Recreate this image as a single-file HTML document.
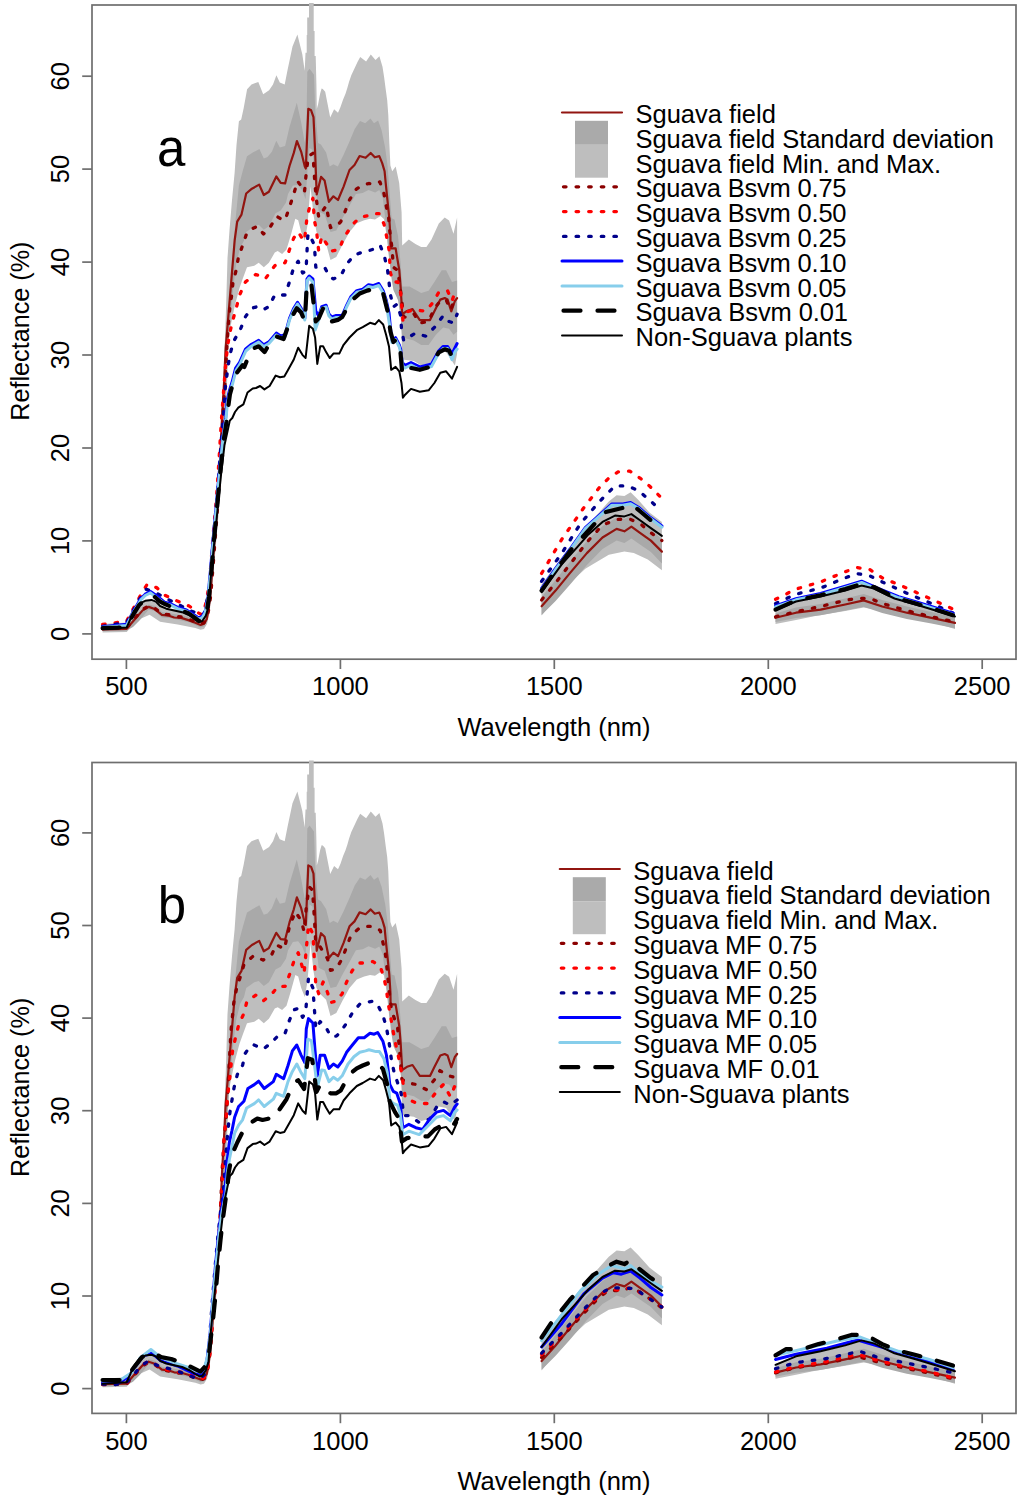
<!DOCTYPE html>
<html><head><meta charset="utf-8"><style>html,body{margin:0;padding:0;background:#fff;width:1024px;height:1502px;overflow:hidden}svg{display:block}</style></head>
<body><svg width="1024" height="1502" viewBox="0 0 1024 1502">
<rect width="1024" height="1502" fill="#fff"/>
<defs><clipPath id="clipa"><rect x="92" y="3" width="924" height="656.2"/></clipPath><clipPath id="clipb"><rect x="92" y="760.5" width="924" height="652.9"/></clipPath></defs>
<rect x="92.0" y="5.0" width="924.0" height="654.2" fill="none" stroke="#6e6e6e" stroke-width="1.7"/>
<rect x="92.0" y="762.5" width="924.0" height="650.9000000000001" fill="none" stroke="#6e6e6e" stroke-width="1.7"/>
<g clip-path="url(#clipa)">
<polygon points="102.6,624.0 126.7,622.5 133.0,613.0 140.0,604.0 148.7,600.0 155.0,602.0 161.9,607.0 170.0,609.0 181.2,610.0 190.0,613.0 200.6,617.0 204.0,616.0 206.5,610.0 208.0,598.0 210.0,575.0 212.5,545.0 215.5,512.0 219.0,470.0 221.5,425.0 223.0,395.0 224.0,360.0 225.1,335.8 226.3,300.0 227.5,258.0 229.5,230.0 232.0,200.0 234.6,173.1 236.5,145.0 238.9,121.2 241.2,119.5 243.7,107.9 247.1,89.3 251.5,84.5 258.3,82.0 263.2,94.2 269.1,90.3 273.0,84.5 276.4,75.2 279.8,82.5 284.7,84.5 287.6,69.8 292.5,46.4 297.4,34.6 302.3,54.2 304.7,70.8 305.5,52.7 306.7,52.7 306.7,35.0 307.2,35.0 307.2,17.6 309.0,17.6 309.0,-5.0 313.7,-5.0 313.7,31.0 314.6,31.0 314.6,56.0 315.7,56.0 316.4,83.5 316.8,108.9 318.1,104.2 320.1,93.7 321.6,88.6 322.8,89.0 325.2,91.7 326.7,99.5 327.9,105.4 330.2,117.5 334.1,109.3 338.0,112.8 340.4,107.3 343.1,99.5 345.5,93.7 347.4,87.8 349.0,82.0 351.3,75.3 357.5,62.0 360.2,57.0 366.1,61.6 370.8,54.6 375.5,60.1 379.4,56.2 382.5,66.7 384.1,76.9 385.6,88.6 387.2,100.3 388.3,115.0 389.3,142.0 390.4,165.5 392.2,171.3 395.7,166.6 399.2,183.0 401.6,212.3 402.2,245.4 408.8,239.5 415.4,243.9 421.2,246.9 426.4,246.9 431.5,239.5 438.8,223.4 444.7,217.6 449.1,220.5 453.5,233.7 457.1,217.6 457.1,353.7 454.9,365.4 452.0,361.0 446.1,352.3 438.8,350.8 431.5,362.5 421.2,365.4 413.9,361.0 402.2,359.6 401.5,331.8 400.0,302.5 397.8,299.6 395.6,287.8 392.0,273.2 389.0,258.6 386.8,236.6 383.9,219.0 380.5,215.9 375.0,219.5 370.0,218.8 364.2,220.3 356.8,223.2 349.5,232.0 342.2,245.2 336.3,256.9 330.5,259.9 326.1,243.7 320.2,237.9 316.5,232.0 313.5,215.0 310.5,186.6 307.5,225.0 304.8,240.8 301.2,232.0 298.2,220.3 295.3,218.8 290.9,235.0 286.5,249.6 282.1,254.0 277.7,251.1 274.8,252.5 268.9,262.8 263.8,267.2 258.7,262.8 254.3,265.7 247.0,267.2 243.0,278.0 239.5,287.9 234.7,305.9 231.1,323.8 228.7,335.8 227.0,385.0 225.0,425.0 222.0,470.0 218.5,515.0 215.0,555.0 212.0,590.0 209.5,613.0 207.0,624.0 204.0,629.0 200.6,629.8 195.3,628.0 177.7,624.5 160.1,621.8 149.6,614.8 140.0,619.0 133.0,625.0 126.7,632.0 102.6,632.5" fill="#bebebe"/>
<polygon points="102.6,627.5 126.7,627.0 133.0,619.0 140.0,611.0 148.7,604.5 155.0,606.0 161.9,612.0 170.0,613.5 181.2,615.0 190.0,617.5 200.6,622.0 204.0,621.0 206.5,616.0 208.0,606.0 210.0,590.0 212.0,565.0 215.0,525.0 218.5,480.0 221.0,440.0 222.8,400.0 224.5,365.0 226.5,330.0 229.0,300.0 232.0,265.0 235.5,220.0 238.9,185.5 243.0,170.0 247.0,156.2 252.8,152.6 259.4,148.9 263.8,158.4 267.5,157.0 271.9,151.8 276.3,140.8 279.9,147.4 285.1,146.0 289.5,126.9 296.8,102.8 301.2,122.5 304.8,143.0 306.5,120.0 307.3,71.8 309.6,68.8 314.0,74.7 315.1,107.9 318.0,143.0 320.9,144.5 326.1,152.6 329.7,166.5 333.4,164.3 337.8,166.5 343.6,154.8 349.5,141.6 354.7,129.1 360.0,121.0 365.2,123.3 370.5,118.6 374.0,123.3 378.1,120.4 381.6,130.3 385.2,147.9 387.5,165.5 389.8,194.8 391.6,218.2 394.5,219.4 398.0,236.0 400.5,262.0 402.2,286.4 409.5,286.4 421.2,293.0 428.6,290.8 434.4,282.0 441.7,270.3 446.1,270.3 452.0,282.0 457.1,280.5 457.1,331.8 453.5,334.7 449.1,328.8 443.2,327.4 435.9,334.7 428.6,345.0 421.2,345.0 413.9,340.6 402.2,337.6 401.0,320.0 398.0,300.0 393.4,290.0 391.0,275.0 389.0,255.0 386.0,225.0 382.8,198.3 379.3,190.1 375.2,192.4 368.5,190.0 362.7,193.0 355.9,194.0 349.5,205.7 342.2,218.8 336.3,230.6 330.5,232.0 324.6,214.5 318.7,211.5 315.0,180.0 312.5,150.0 309.5,148.0 307.5,170.0 305.6,199.0 302.0,190.0 298.2,185.0 292.9,185.6 288.0,194.0 286.0,202.6 280.7,210.6 275.5,213.3 268.9,226.2 263.8,229.8 258.7,224.7 254.3,226.2 246.2,232.0 244.0,240.8 240.0,248.0 236.0,265.0 232.5,295.0 229.5,330.0 227.5,360.0 225.5,395.0 223.5,430.0 221.0,475.0 217.5,520.0 214.0,560.0 211.5,590.0 209.0,612.0 207.0,621.0 204.0,626.5 200.6,627.5 190.0,622.5 181.2,620.5 170.0,618.0 161.9,617.5 155.0,611.0 148.7,609.5 140.0,620.0 133.0,627.0 126.7,630.5 102.6,631.0" fill="#a9a9a9"/>
<polygon points="541.6,584.4 560.0,560.0 577.5,537.5 596.3,515.6 608.8,501.6 616.6,495.3 624.4,496.1 630.6,492.2 638.4,500.0 649.4,512.5 661.9,521.9 661.9,570.3 647.8,559.4 633.8,553.1 624.4,551.6 608.8,554.7 585.3,568.8 561.9,590.6 541.6,615.6" fill="#bebebe"/>
<polygon points="541.6,597.0 555.6,580.0 569.7,562.0 586.9,541.0 602.5,526.0 616.6,517.5 624.4,519.0 631.4,515.0 640.0,521.0 650.9,529.0 661.9,539.5 661.9,563.5 650.9,552.0 640.0,544.5 631.4,538.5 624.4,543.0 616.6,540.5 602.5,549.0 586.9,565.0 569.7,585.0 555.6,601.0 541.6,615.0" fill="#a9a9a9"/>
<polygon points="775.5,609.0 796.0,601.0 820.6,597.0 845.2,591.0 863.7,585.0 882.2,591.0 906.8,599.0 931.4,607.0 955.0,614.0 955.0,629.1 931.4,622.0 898.6,615.8 882.2,611.0 863.7,607.6 845.2,611.0 816.5,615.8 796.0,620.0 775.5,624.0" fill="#bebebe"/>
<polygon points="775.5,613.5 796.0,607.5 820.6,604.0 845.2,598.5 863.7,594.0 882.2,600.0 906.8,606.5 931.4,612.0 955.0,617.5 955.0,628.3 931.4,623.6 906.8,618.9 882.2,613.0 863.7,606.8 845.2,610.5 820.6,615.2 796.0,617.9 775.5,622.0" fill="#a9a9a9"/>
<polyline points="102.6,629.5 126.7,628.9 130.3,624.5 136.4,617.5 142.6,610.4 148.7,606.9 154.0,608.7 161.9,614.8 168.9,615.7 174.2,617.5 181.2,617.9 188.3,620.1 195.3,622.7 200.6,624.9 204.1,623.6 206.7,619.2 208.5,609.5 210.2,596.4 212.5,567.0 216.5,515.0 220.0,465.0 222.2,413.7 224.0,383.7 225.7,347.8 228.7,311.9 231.7,275.9 234.7,240.0 237.2,221.6 241.5,214.6 246.2,193.5 251.9,188.7 259.2,184.6 263.8,195.0 268.9,191.8 276.3,176.5 280.7,182.8 285.1,183.4 289.5,166.0 293.8,152.9 296.9,141.0 301.2,151.8 304.8,166.5 305.8,168.5 308.3,108.8 311.1,110.3 313.5,117.2 315.1,151.2 316.7,194.5 321.0,176.9 324.6,180.5 328.9,201.8 333.4,196.3 338.0,200.0 343.6,186.6 349.5,170.0 354.5,165.0 359.6,156.0 365.6,157.8 370.7,153.0 374.8,157.3 379.3,156.1 382.2,163.1 384.6,171.3 385.7,183.0 387.5,200.6 389.3,218.2 390.4,236.0 390.6,248.3 395.6,248.3 399.3,270.3 400.7,287.8 402.2,314.2 407.0,311.0 412.5,309.1 419.8,320.1 430.0,320.1 434.4,311.3 440.3,299.6 444.7,298.1 447.6,299.6 451.3,311.3 454.9,301.0 457.1,298.1" fill="none" stroke="#921510" stroke-width="2.2" stroke-linejoin="round" stroke-linecap="round"/>
<polyline points="541.6,606.3 555.6,590.6 569.7,573.4 586.9,553.1 602.5,537.5 616.6,528.9 624.4,531.3 631.4,526.6 640.0,532.8 650.9,540.6 661.9,551.6" fill="none" stroke="#921510" stroke-width="2.2" stroke-linejoin="round" stroke-linecap="round"/>
<polyline points="775.5,617.8 796.0,612.7 820.6,609.6 845.2,604.5 863.7,600.4 882.2,606.5 906.8,612.7 931.4,617.8 955.0,622.9" fill="none" stroke="#921510" stroke-width="2.2" stroke-linejoin="round" stroke-linecap="round"/>
<polyline points="102.6,628.5 126.7,627.9 130.3,623.5 136.4,616.5 142.6,609.4 148.7,605.9 154.0,607.7 161.9,613.8 168.9,614.7 174.2,616.5 181.2,616.9 188.3,619.1 195.3,621.7 200.6,623.9 204.1,622.6 206.7,618.2 208.7,609.5 210.6,596.4 213.0,567.0 217.0,515.0 220.6,465.0 223.0,413.7 225.0,383.7 226.8,347.8 228.7,320.2 229.9,307.1 231.7,295.1 232.9,283.1 235.9,271.1 238.3,258.0 241.0,250.0 246.6,233.7 251.4,229.1 257.2,226.3 263.5,234.0 268.9,229.1 273.3,222.0 277.0,216.5 280.7,218.8 285.1,220.0 289.5,207.1 293.8,193.9 297.5,181.0 301.0,186.0 304.5,192.0 306.5,170.0 308.5,156.0 312.9,153.3 315.0,185.0 316.5,200.0 318.7,217.4 322.0,212.0 326.1,205.7 330.5,227.6 336.3,226.2 340.7,221.8 345.1,211.5 349.5,199.8 356.3,189.2 362.2,185.4 368.8,183.5 374.6,184.0 379.9,181.9 384.0,193.6 386.3,206.5 388.7,218.2 389.6,229.6 392.0,248.3 393.4,267.3 397.8,270.3 400.5,290.0 403.7,317.1 409.5,317.1 414.0,314.0 419.8,323.0 428.6,321.5 434.4,308.3 440.3,301.0 446.1,299.6 450.5,309.8 453.5,302.5 457.1,299.6" fill="none" stroke="#8b0000" stroke-width="3.3" stroke-linejoin="round" stroke-linecap="round" stroke-dasharray="2.5,10.1"/>
<polyline points="541.6,600.0 555.6,582.8 571.3,562.5 586.9,542.2 602.5,525.0 616.6,519.5 629.1,518.8 640.0,523.4 650.9,532.8 661.9,540.6" fill="none" stroke="#8b0000" stroke-width="3.3" stroke-linejoin="round" stroke-linecap="round" stroke-dasharray="2.5,10.1"/>
<polyline points="775.5,616.8 796.0,611.7 820.6,606.5 845.2,600.4 857.5,598.3 869.8,598.3 882.2,603.5 906.8,610.6 931.4,616.8 955.0,622.0" fill="none" stroke="#8b0000" stroke-width="3.3" stroke-linejoin="round" stroke-linecap="round" stroke-dasharray="2.5,10.1"/>
<polyline points="102.6,624.4 126.7,621.3 127.6,619.2 133.8,607.8 139.5,597.2 147.0,584.5 156.6,587.6 165.4,595.5 176.8,600.8 189.1,606.0 198.8,613.1 201.5,614.5 204.2,611.1 207.0,597.0 209.3,584.4 211.8,552.7 214.0,525.0 216.5,498.0 219.0,460.0 221.6,417.2 222.8,401.7 224.6,377.7 226.3,357.4 228.1,343.0 230.5,329.8 233.5,317.8 237.1,304.7 239.6,295.0 245.5,281.8 249.9,278.9 255.8,274.5 260.0,276.0 265.3,278.9 270.4,271.6 274.8,265.7 280.7,262.8 285.1,262.8 289.5,249.6 293.8,237.9 298.2,232.0 302.0,238.0 304.5,241.0 307.0,217.4 310.0,205.7 312.9,198.3 314.4,220.3 316.5,230.6 318.7,251.1 321.7,236.4 327.5,245.2 330.5,251.1 339.3,249.6 343.6,237.9 349.5,229.1 353.9,223.2 359.8,217.4 367.1,215.9 372.9,213.6 379.3,213.7 384.0,224.0 386.5,236.0 389.0,249.8 390.5,273.2 393.4,282.0 397.8,282.0 400.7,293.7 402.9,320.1 408.1,311.3 415.4,309.8 425.6,311.3 433.0,302.5 438.8,292.2 447.6,290.8 452.0,301.0 456.4,287.8" fill="none" stroke="#ff0000" stroke-width="3.3" stroke-linejoin="round" stroke-linecap="round" stroke-dasharray="2.5,10.1"/>
<polyline points="541.6,573.4 561.9,539.1 583.8,507.8 599.4,487.5 608.8,478.1 618.1,471.9 629.8,471.1 640.0,478.1 649.4,485.9 661.5,498.0" fill="none" stroke="#ff0000" stroke-width="3.3" stroke-linejoin="round" stroke-linecap="round" stroke-dasharray="2.5,10.1"/>
<polyline points="775.5,599.3 796.0,589.1 820.6,581.9 845.2,571.7 857.5,567.6 869.8,569.6 882.2,577.8 906.8,588.1 931.4,599.3 953.0,609.0" fill="none" stroke="#ff0000" stroke-width="3.3" stroke-linejoin="round" stroke-linecap="round" stroke-dasharray="2.5,10.1"/>
<polyline points="102.6,626.3 126.7,622.5 133.0,611.0 139.1,599.9 146.1,589.3 151.0,591.0 157.5,593.7 168.9,599.9 179.5,605.1 191.8,611.3 201.5,614.8 204.2,613.6 207.0,600.0 209.8,585.0 212.2,553.0 214.5,525.0 217.0,498.0 219.8,460.0 222.5,425.0 224.0,407.7 225.1,389.7 226.9,375.3 228.7,362.2 231.1,350.2 234.7,339.4 240.7,328.6 245.5,316.6 251.4,308.3 257.2,306.7 263.1,309.7 268.9,306.7 274.8,295.0 280.0,295.0 285.1,295.0 289.5,281.8 293.8,267.2 298.2,261.3 302.6,273.0 306.0,271.0 307.8,236.0 309.2,233.5 312.0,240.0 314.4,245.2 315.8,267.2 320.2,267.2 324.6,267.2 329.0,276.0 333.4,278.9 340.7,276.0 346.6,264.3 353.9,255.5 361.2,252.5 367.1,251.1 372.9,249.4 375.9,248.3 380.2,245.4 384.6,257.1 387.6,270.3 389.0,282.0 390.5,295.2 393.4,306.9 397.1,304.0 400.7,315.7 401.5,328.8 403.7,340.6 408.1,337.6 415.4,333.2 425.6,336.2 434.4,327.4 443.2,315.7 449.1,321.5 453.5,323.0 457.1,314.2" fill="none" stroke="#00008b" stroke-width="3.3" stroke-linejoin="round" stroke-linecap="round" stroke-dasharray="2.5,10.1"/>
<polyline points="541.6,581.3 561.9,553.1 580.6,523.4 599.4,501.6 615.0,485.9 627.5,485.9 638.4,490.6 649.4,500.0 661.5,511.0" fill="none" stroke="#00008b" stroke-width="3.3" stroke-linejoin="round" stroke-linecap="round" stroke-dasharray="2.5,10.1"/>
<polyline points="775.5,603.5 796.0,594.2 820.6,588.1 845.2,577.8 857.5,573.7 869.8,575.8 882.2,581.9 906.8,593.2 931.4,603.5 953.0,613.0" fill="none" stroke="#00008b" stroke-width="3.3" stroke-linejoin="round" stroke-linecap="round" stroke-dasharray="2.5,10.1"/>
<polyline points="102.6,626.8 126.7,624.2 133.0,612.0 140.8,598.6 145.2,594.2 150.5,591.5 157.0,596.0 164.5,602.1 170.7,603.8 177.7,607.4 186.5,610.0 193.5,614.4 198.8,617.9 202.3,616.2 205.3,611.0 208.0,597.0 210.5,570.0 213.0,540.0 216.0,508.0 219.5,470.0 223.0,435.0 225.7,417.2 226.9,401.7 229.3,390.9 232.3,381.3 235.6,368.0 239.6,362.4 245.5,349.2 250.6,344.8 258.7,340.4 263.8,344.8 268.9,341.9 276.3,333.1 280.7,336.0 285.1,334.6 289.5,318.4 293.8,308.2 297.5,302.3 301.2,308.2 304.8,318.4 307.0,278.9 309.2,276.0 312.9,278.9 315.8,311.1 318.7,316.0 321.7,306.7 326.1,305.3 329.0,314.1 331.9,317.0 336.3,315.5 342.2,315.5 346.6,305.3 351.0,296.5 356.8,290.6 362.7,289.2 368.5,284.8 372.9,285.6 378.8,283.5 383.2,290.8 386.1,299.6 389.0,312.7 390.5,328.8 392.0,340.6 395.6,337.6 399.3,345.0 400.7,349.3 402.2,362.5 405.1,365.4 411.0,362.5 419.8,366.9 431.5,364.0 438.8,350.8 443.2,346.4 447.6,346.4 452.0,353.7 454.9,347.9 457.1,343.5" fill="none" stroke="#0000ff" stroke-width="3" stroke-linejoin="round" stroke-linecap="round"/>
<polyline points="541.6,588.4 555.6,568.3 569.7,549.5 585.3,527.5 599.4,515.0 611.9,504.0 622.8,504.0 630.6,502.5 638.4,507.2 649.4,516.6 661.9,526.0" fill="none" stroke="#0000ff" stroke-width="3" stroke-linejoin="round" stroke-linecap="round"/>
<polyline points="775.5,605.8 796.0,598.6 820.6,593.5 845.2,586.3 861.6,581.2 878.1,588.4 898.6,596.6 919.1,602.8 953.0,613.2" fill="none" stroke="#0000ff" stroke-width="3" stroke-linejoin="round" stroke-linecap="round"/>
<polyline points="102.6,627.3 126.7,625.4 133.0,613.0 140.8,599.9 145.2,595.5 150.5,592.8 157.0,598.0 164.5,603.4 170.7,605.1 177.7,608.7 186.5,611.3 193.5,615.7 198.8,619.2 202.3,617.5 205.0,613.1 208.0,598.0 210.8,570.0 213.3,540.0 216.3,508.0 219.8,470.0 223.3,435.0 226.0,418.5 227.4,403.0 229.8,392.5 232.8,383.0 236.0,370.5 240.0,364.0 245.8,351.0 251.0,346.5 258.7,342.0 263.8,346.5 268.9,343.5 276.3,335.0 280.7,337.8 285.1,336.5 289.5,320.0 293.8,310.0 297.5,304.0 301.2,310.0 304.8,320.0 307.0,281.0 309.2,278.0 312.9,282.0 315.2,330.0 318.7,320.0 321.7,308.5 326.1,307.0 329.0,316.0 331.9,319.0 336.3,317.5 342.2,317.5 346.6,307.0 351.0,298.2 356.8,292.3 362.7,291.0 368.5,286.5 372.9,287.5 378.8,285.5 383.2,293.0 386.1,302.0 388.5,318.0 390.5,331.0 392.0,342.5 395.6,339.5 399.3,347.0 401.2,355.0 402.6,366.0 405.1,368.0 411.0,365.0 419.8,369.5 431.5,366.5 438.8,353.0 443.2,348.5 447.6,348.5 452.0,359.6 454.9,352.0 457.1,349.0" fill="none" stroke="#87ceeb" stroke-width="3" stroke-linejoin="round" stroke-linecap="round"/>
<polyline points="541.6,589.6 555.6,569.5 569.7,550.7 585.3,528.7 599.4,516.2 611.9,505.2 622.8,505.2 630.6,503.7 638.4,508.4 649.4,517.8 661.9,527.2" fill="none" stroke="#87ceeb" stroke-width="3" stroke-linejoin="round" stroke-linecap="round"/>
<polyline points="775.5,607.0 796.0,599.8 820.6,594.7 845.2,587.5 861.6,582.4 878.1,589.6 898.6,597.8 919.1,604.0 953.0,614.4" fill="none" stroke="#87ceeb" stroke-width="3" stroke-linejoin="round" stroke-linecap="round"/>
<polyline points="102.6,628.2 117.9,627.6 125.0,627.1 132.0,616.6 139.1,605.1 146.0,599.0 153.1,595.5 160.1,601.6 165.4,604.3 173.0,607.5 181.2,610.4 188.3,613.1 194.4,617.5 198.8,621.0 202.3,620.5 206.7,612.2 209.0,597.0 211.5,570.0 214.0,540.0 217.0,508.0 220.5,470.0 224.0,438.0 226.5,422.0 228.1,407.7 229.9,394.5 232.5,385.0 235.9,374.1 242.6,365.3 244.3,367.0 251.4,349.2 258.7,346.3 264.5,352.1 269.5,344.0 274.8,336.0 283.6,339.0 290.9,318.4 296.8,308.2 301.2,312.6 304.8,321.4 307.0,281.8 311.4,284.8 315.8,321.4 318.7,318.4 323.1,308.2 327.5,311.1 331.9,321.4 337.8,319.9 342.2,317.0 351.0,300.9 359.8,293.5 367.1,290.6 372.9,289.2 375.9,287.8 383.2,293.7 387.6,311.3 390.5,331.8 393.4,342.0 396.4,339.1 400.0,346.4 402.2,372.8 403.7,375.7 411.0,368.0 419.8,369.8 430.0,366.9 438.8,352.3 444.7,349.3 449.1,350.8 451.3,355.2 454.9,349.0 457.1,346.4" fill="none" stroke="#000000" stroke-width="4.2" stroke-linejoin="round" stroke-linecap="round" stroke-dasharray="17,17"/>
<polyline points="541.6,590.6 555.6,570.5 574.4,545.3 582.2,537.5 596.3,521.9 604.1,512.5 622.8,507.8 632.2,504.7 641.0,512.0 650.9,520.3 661.9,528.1" fill="none" stroke="#000000" stroke-width="4.2" stroke-linejoin="round" stroke-linecap="round" stroke-dasharray="17,17"/>
<polyline points="775.5,609.6 796.0,600.4 820.6,595.2 845.2,589.1 861.6,584.0 873.9,587.0 894.5,597.3 919.1,604.5 935.5,609.6 955.0,615.8" fill="none" stroke="#000000" stroke-width="4.2" stroke-linejoin="round" stroke-linecap="round" stroke-dasharray="17,17"/>
<polyline points="102.6,629.0 126.7,627.5 133.8,611.3 139.9,603.4 145.2,600.8 151.4,599.9 155.8,601.6 160.1,606.0 166.3,608.7 174.2,610.4 182.1,612.2 190.0,615.7 195.3,619.2 199.7,621.8 202.3,621.0 205.8,615.7 208.5,606.9 211.0,575.0 214.0,545.0 217.5,510.0 221.0,475.0 224.5,445.0 227.2,432.7 229.8,420.6 232.3,418.0 235.0,412.0 238.3,407.7 243.4,404.3 247.5,392.5 252.7,388.5 256.0,388.0 260.1,386.0 264.4,389.4 269.6,386.0 275.7,375.6 280.0,377.3 284.3,376.4 288.0,370.0 293.8,359.5 298.2,347.7 302.6,355.1 305.6,358.0 309.2,325.8 312.9,328.7 315.1,337.5 317.3,363.9 320.2,346.3 323.1,346.3 326.1,352.1 329.7,358.0 333.4,353.6 339.3,353.6 343.6,344.8 349.5,337.5 356.8,330.2 362.7,327.2 370.0,322.8 375.0,324.3 378.8,320.1 383.2,324.5 386.1,334.7 389.0,346.4 391.2,369.8 395.6,366.9 399.3,371.3 401.5,383.0 402.9,397.7 405.1,394.7 411.0,388.9 419.8,391.8 428.6,390.3 434.4,383.0 440.3,372.8 446.1,371.3 452.0,378.6 457.1,366.9" fill="none" stroke="#000000" stroke-width="2" stroke-linejoin="round" stroke-linecap="round"/>
<polyline points="541.6,592.2 561.9,564.1 577.5,546.9 588.4,534.4 602.5,521.9 615.0,515.6 624.4,516.4 631.4,514.1 640.0,520.3 650.9,528.1 661.9,535.9" fill="none" stroke="#000000" stroke-width="2" stroke-linejoin="round" stroke-linecap="round"/>
<polyline points="775.5,610.0 796.0,601.5 820.6,596.5 845.2,590.5 861.6,585.5 873.9,588.5 894.5,598.5 919.1,605.5 935.5,610.5 955.0,616.5" fill="none" stroke="#000000" stroke-width="2" stroke-linejoin="round" stroke-linecap="round"/>
</g>
<g clip-path="url(#clipb)">
<polygon points="102.6,1378.7 126.7,1377.2 133.0,1367.8 140.0,1358.8 148.7,1354.8 155.0,1356.8 161.9,1361.8 170.0,1363.8 181.2,1364.8 190.0,1367.8 200.6,1371.8 204.0,1370.8 206.5,1364.8 208.0,1352.8 210.0,1329.9 212.5,1300.0 215.5,1267.1 219.0,1225.3 221.5,1180.4 223.0,1150.5 224.0,1115.7 225.1,1091.6 226.3,1055.9 227.5,1014.0 229.5,986.1 232.0,956.2 234.6,929.4 236.5,901.4 238.9,877.7 241.2,876.0 243.7,864.5 247.1,845.9 251.5,841.2 258.3,838.7 263.2,850.8 269.1,846.9 273.0,841.2 276.4,831.9 279.8,839.2 284.7,841.2 287.6,826.5 292.5,803.2 297.4,791.4 302.3,811.0 304.7,827.5 305.5,809.5 306.7,809.5 306.7,791.8 307.2,791.8 307.2,774.5 309.0,774.5 309.0,752.0 313.7,752.0 313.7,787.8 314.6,787.8 314.6,812.8 315.7,812.8 316.4,840.2 316.8,865.5 318.1,860.8 320.1,850.3 321.6,845.2 322.8,845.6 325.2,848.3 326.7,856.1 327.9,862.0 330.2,874.0 334.1,865.9 338.0,869.3 340.4,863.9 343.1,856.1 345.5,850.3 347.4,844.4 349.0,838.7 351.3,832.0 357.5,818.7 360.2,813.7 366.1,818.3 370.8,811.4 375.5,816.8 379.4,813.0 382.5,823.4 384.1,833.6 385.6,845.2 387.2,856.9 388.3,871.5 389.3,898.4 390.4,921.9 392.2,927.6 395.7,923.0 399.2,939.3 401.6,968.5 402.2,1001.5 408.8,995.6 415.4,1000.0 421.2,1003.0 426.4,1003.0 431.5,995.6 438.8,979.6 444.7,973.8 449.1,976.7 453.5,989.8 457.1,973.8 457.1,1109.4 454.9,1121.1 452.0,1116.7 446.1,1108.0 438.8,1106.5 431.5,1118.2 421.2,1121.1 413.9,1116.7 402.2,1115.3 401.5,1087.6 400.0,1058.4 397.8,1055.5 395.6,1043.7 392.0,1029.2 389.0,1014.6 386.8,992.7 383.9,975.2 380.5,972.1 375.0,975.7 370.0,975.0 364.2,976.5 356.8,979.4 349.5,988.1 342.2,1001.3 336.3,1012.9 330.5,1015.9 326.1,999.8 320.2,994.0 316.5,988.1 313.5,971.2 310.5,942.9 307.5,981.2 304.8,996.9 301.2,988.1 298.2,976.5 295.3,975.0 290.9,991.1 286.5,1005.7 282.1,1010.0 277.7,1007.2 274.8,1008.6 268.9,1018.8 263.8,1023.2 258.7,1018.8 254.3,1021.7 247.0,1023.2 243.0,1034.0 239.5,1043.8 234.7,1061.8 231.1,1079.6 228.7,1091.6 227.0,1140.6 225.0,1180.4 222.0,1225.3 218.5,1270.1 215.0,1310.0 212.0,1344.9 209.5,1367.8 207.0,1378.7 204.0,1383.7 200.6,1384.5 195.3,1382.7 177.7,1379.2 160.1,1376.5 149.6,1369.6 140.0,1373.8 133.0,1379.7 126.7,1386.7 102.6,1387.2" fill="#bebebe"/>
<polygon points="102.6,1382.2 126.7,1381.7 133.0,1373.8 140.0,1365.8 148.7,1359.3 155.0,1360.8 161.9,1366.8 170.0,1368.3 181.2,1369.8 190.0,1372.3 200.6,1376.7 204.0,1375.7 206.5,1370.8 208.0,1360.8 210.0,1344.9 212.0,1319.9 215.0,1280.1 218.5,1235.2 221.0,1195.4 222.8,1155.5 224.5,1120.7 226.5,1085.8 229.0,1055.9 232.0,1021.0 235.5,976.2 238.9,941.8 243.0,926.3 247.0,912.6 252.8,909.0 259.4,905.3 263.8,914.8 267.5,913.4 271.9,908.2 276.3,897.3 279.9,903.8 285.1,902.4 289.5,883.4 296.8,859.4 301.2,879.0 304.8,899.4 306.5,876.5 307.3,828.5 309.6,825.5 314.0,831.4 315.1,864.5 318.0,899.4 320.9,900.9 326.1,909.0 329.7,922.9 333.4,920.7 337.8,922.9 343.6,911.2 349.5,898.0 354.7,885.6 360.0,877.5 365.2,879.8 370.5,875.1 374.0,879.8 378.1,876.9 381.6,886.8 385.2,904.3 387.5,921.9 389.8,951.1 391.6,974.4 394.5,975.6 398.0,992.1 400.5,1018.0 402.2,1042.3 409.5,1042.3 421.2,1048.9 428.6,1046.7 434.4,1037.9 441.7,1026.3 446.1,1026.3 452.0,1037.9 457.1,1036.5 457.1,1087.6 453.5,1090.5 449.1,1084.6 443.2,1083.2 435.9,1090.5 428.6,1100.7 421.2,1100.7 413.9,1096.3 402.2,1093.4 401.0,1075.8 398.0,1055.9 393.4,1045.9 391.0,1031.0 389.0,1011.0 386.0,981.2 382.8,954.5 379.3,946.4 375.2,948.7 368.5,946.3 362.7,949.3 355.9,950.3 349.5,961.9 342.2,975.0 336.3,986.7 330.5,988.1 324.6,970.7 318.7,967.7 315.0,936.3 312.5,906.4 309.5,904.4 307.5,926.3 305.6,955.2 302.0,946.3 298.2,941.3 292.9,941.9 288.0,950.3 286.0,958.8 280.7,966.8 275.5,969.5 268.9,982.3 263.8,985.9 258.7,980.9 254.3,982.3 246.2,988.1 244.0,996.9 240.0,1004.1 236.0,1021.0 232.5,1050.9 229.5,1085.8 227.5,1115.7 225.5,1150.5 223.5,1185.4 221.0,1230.3 217.5,1275.1 214.0,1315.0 211.5,1344.9 209.0,1366.8 207.0,1375.7 204.0,1381.2 200.6,1382.2 190.0,1377.2 181.2,1375.2 170.0,1372.8 161.9,1372.3 155.0,1365.8 148.7,1364.3 140.0,1374.7 133.0,1381.7 126.7,1385.2 102.6,1385.7" fill="#a9a9a9"/>
<polygon points="541.6,1339.3 560.0,1315.0 577.5,1292.5 596.3,1270.7 608.8,1256.8 616.6,1250.5 624.4,1251.3 630.6,1247.4 638.4,1255.2 649.4,1267.6 661.9,1277.0 661.9,1325.2 647.8,1314.4 633.8,1308.1 624.4,1306.6 608.8,1309.7 585.3,1323.7 561.9,1345.5 541.6,1370.4" fill="#bebebe"/>
<polygon points="541.6,1351.8 555.6,1334.9 569.7,1317.0 586.9,1296.0 602.5,1281.1 616.6,1272.6 624.4,1274.1 631.4,1270.1 640.0,1276.1 650.9,1284.1 661.9,1294.5 661.9,1318.4 650.9,1307.0 640.0,1299.5 631.4,1293.5 624.4,1298.0 616.6,1295.5 602.5,1304.0 586.9,1319.9 569.7,1339.9 555.6,1355.8 541.6,1369.8" fill="#a9a9a9"/>
<polygon points="775.5,1363.8 796.0,1355.8 820.6,1351.8 845.2,1345.9 863.7,1339.9 882.2,1345.9 906.8,1353.8 931.4,1361.8 955.0,1368.8 955.0,1383.8 931.4,1376.7 898.6,1370.6 882.2,1365.8 863.7,1362.4 845.2,1365.8 816.5,1370.6 796.0,1374.7 775.5,1378.7" fill="#bebebe"/>
<polygon points="775.5,1368.3 796.0,1362.3 820.6,1358.8 845.2,1353.3 863.7,1348.8 882.2,1354.8 906.8,1361.3 931.4,1366.8 955.0,1372.3 955.0,1383.0 931.4,1378.3 906.8,1373.7 882.2,1367.8 863.7,1361.6 845.2,1365.3 820.6,1370.0 796.0,1372.7 775.5,1376.7" fill="#a9a9a9"/>
<polyline points="102.6,1384.2 126.7,1383.6 130.3,1379.2 136.4,1372.3 142.6,1365.2 148.7,1361.7 154.0,1363.5 161.9,1369.6 168.9,1370.5 174.2,1372.3 181.2,1372.7 188.3,1374.8 195.3,1377.4 200.6,1379.6 204.1,1378.3 206.7,1374.0 208.5,1364.3 210.2,1351.2 212.5,1321.9 216.5,1270.1 220.0,1220.3 222.2,1169.2 224.0,1139.3 225.7,1103.5 228.7,1067.7 231.7,1031.9 234.7,996.1 237.2,977.8 241.5,970.8 246.2,949.8 251.9,945.0 259.2,940.9 263.8,951.3 268.9,948.1 276.3,932.8 280.7,939.1 285.1,939.7 289.5,922.4 293.8,909.3 296.9,897.4 301.2,908.2 304.8,922.9 305.8,924.9 308.3,865.4 311.1,866.9 313.5,873.7 315.1,907.6 316.7,950.8 321.0,933.2 324.6,936.8 328.9,958.0 333.4,952.6 338.0,956.2 343.6,942.9 349.5,926.3 354.5,921.4 359.6,912.4 365.6,914.2 370.7,909.4 374.8,913.7 379.3,912.5 382.2,919.5 384.6,927.6 385.7,939.3 387.5,956.8 389.3,974.4 390.4,992.1 390.6,1004.4 395.6,1004.4 399.3,1026.3 400.7,1043.7 402.2,1070.0 407.0,1066.8 412.5,1065.0 419.8,1075.9 430.0,1075.9 434.4,1067.1 440.3,1055.5 444.7,1054.0 447.6,1055.5 451.3,1067.1 454.9,1056.9 457.1,1054.0" fill="none" stroke="#921510" stroke-width="2.2" stroke-linejoin="round" stroke-linecap="round"/>
<polyline points="541.6,1361.1 555.6,1345.5 569.7,1328.3 586.9,1308.1 602.5,1292.5 616.6,1284.0 624.4,1286.4 631.4,1281.7 640.0,1287.9 650.9,1295.6 661.9,1306.6" fill="none" stroke="#921510" stroke-width="2.2" stroke-linejoin="round" stroke-linecap="round"/>
<polyline points="775.5,1372.6 796.0,1367.5 820.6,1364.4 845.2,1359.3 863.7,1355.2 882.2,1361.3 906.8,1367.5 931.4,1372.6 955.0,1377.6" fill="none" stroke="#921510" stroke-width="2.2" stroke-linejoin="round" stroke-linecap="round"/>
<polyline points="102.6,1384.7 126.7,1384.1 130.3,1379.7 136.4,1372.8 142.6,1365.7 148.7,1362.2 154.0,1364.0 161.9,1370.1 168.9,1371.0 174.2,1372.8 181.2,1373.2 188.3,1375.3 195.3,1377.9 200.6,1380.1 204.1,1378.8 206.7,1374.5 208.5,1364.8 210.2,1351.7 212.5,1322.4 216.5,1270.6 220.0,1220.8 222.2,1169.7 224.0,1139.8 226.0,1120.0 227.9,1090.4 230.9,1031.8 233.8,1002.5 236.7,987.9 239.6,979.1 244.0,964.4 253.6,955.7 263.1,960.1 271.9,954.2 276.3,944.7 284.3,949.1 289.5,926.4 295.3,911.7 301.2,920.5 304.1,931.5 306.5,905.0 309.2,887.0 312.5,890.0 314.5,920.0 315.8,943.9 320.2,946.9 327.5,958.6 330.5,970.3 336.3,968.8 342.2,958.6 351.0,935.2 359.8,927.8 365.6,926.4 372.9,926.4 380.3,930.4 382.9,942.5 385.5,954.6 387.2,970.2 388.9,989.2 391.5,1010.0 395.0,1020.4 397.6,1027.3 400.2,1058.5 401.9,1079.3 407.1,1082.7 415.8,1084.4 426.2,1089.6 434.8,1079.3 440.0,1070.6 448.7,1075.8 455.6,1077.5 457.1,1076.0" fill="none" stroke="#8b0000" stroke-width="3.3" stroke-linejoin="round" stroke-linecap="round" stroke-dasharray="2.5,10.1"/>
<polyline points="541.6,1357.5 561.9,1337.0 582.2,1315.0 599.4,1297.0 608.8,1290.5 618.1,1290.5 624.4,1289.5 631.4,1287.5 640.0,1292.0 650.9,1299.5 661.9,1308.0" fill="none" stroke="#8b0000" stroke-width="3.3" stroke-linejoin="round" stroke-linecap="round" stroke-dasharray="2.5,10.1"/>
<polyline points="775.5,1372.8 796.0,1367.7 826.8,1363.0 857.5,1356.5 878.1,1362.0 908.8,1369.0 929.3,1373.0 953.0,1378.8" fill="none" stroke="#8b0000" stroke-width="3.3" stroke-linejoin="round" stroke-linecap="round" stroke-dasharray="2.5,10.1"/>
<polyline points="102.6,1383.7 126.7,1383.1 130.3,1378.7 136.4,1371.8 142.6,1364.7 148.7,1361.2 154.0,1363.0 161.9,1369.1 168.9,1370.0 174.2,1371.8 181.2,1372.2 188.3,1374.3 195.3,1376.9 200.6,1379.1 204.1,1377.8 206.7,1373.5 208.5,1363.8 210.2,1350.7 212.5,1321.4 216.5,1269.6 220.0,1219.8 222.0,1186.4 223.3,1159.8 224.0,1139.8 225.3,1126.5 226.6,1113.2 227.3,1099.9 228.6,1087.9 230.0,1075.9 231.3,1062.6 232.6,1050.6 235.3,1038.6 238.6,1025.3 243.9,1013.3 247.0,1001.1 255.8,995.2 263.1,1001.1 273.3,992.3 277.7,986.4 285.1,986.4 289.5,974.7 293.8,961.5 298.2,952.7 304.1,973.2 308.5,924.9 312.9,933.7 315.8,985.0 318.7,993.7 323.1,982.0 327.5,992.3 330.5,1002.5 336.3,1001.1 342.2,993.7 346.6,982.0 352.4,970.3 359.8,963.0 365.6,963.0 372.9,961.5 380.3,966.7 383.8,977.1 386.4,989.2 388.1,1003.1 390.7,1016.9 392.4,1027.3 395.0,1041.2 398.5,1056.8 401.1,1070.6 405.4,1098.3 417.5,1103.5 427.9,1103.5 436.6,1091.4 443.5,1084.4 450.4,1096.6 454.7,1086.2 457.1,1084.0" fill="none" stroke="#ff0000" stroke-width="3.3" stroke-linejoin="round" stroke-linecap="round" stroke-dasharray="2.5,10.1"/>
<polyline points="541.6,1354.7 561.9,1334.4 582.2,1312.5 599.4,1295.3 608.8,1289.1 618.1,1289.8 624.4,1287.5 635.3,1289.8 646.3,1296.9 658.8,1304.7 661.9,1307.0" fill="none" stroke="#ff0000" stroke-width="3.3" stroke-linejoin="round" stroke-linecap="round" stroke-dasharray="2.5,10.1"/>
<polyline points="775.5,1371.8 796.0,1366.7 826.8,1361.5 857.5,1354.3 878.1,1360.5 908.8,1367.7 929.3,1371.8 953.0,1377.9" fill="none" stroke="#ff0000" stroke-width="3.3" stroke-linejoin="round" stroke-linecap="round" stroke-dasharray="2.5,10.1"/>
<polyline points="102.6,1384.0 115.3,1384.5 126.0,1383.0 133.0,1376.0 140.0,1367.0 148.3,1360.9 158.5,1366.0 171.2,1369.2 182.6,1373.0 194.0,1377.4 200.0,1378.5 204.0,1375.0 207.0,1364.0 209.5,1340.0 212.0,1305.0 215.0,1268.0 218.0,1235.0 220.5,1212.0 223.3,1193.1 224.6,1173.1 226.0,1153.1 227.3,1137.2 228.6,1123.8 230.0,1111.9 232.0,1099.9 234.0,1087.9 237.3,1074.6 242.6,1065.2 245.3,1053.3 249.9,1046.5 254.0,1045.0 263.5,1049.0 271.9,1042.1 277.7,1036.2 285.1,1033.3 289.5,1020.1 293.8,1009.9 298.2,1008.4 302.6,1017.2 305.6,1012.8 308.5,977.6 312.9,987.9 315.8,1028.9 320.2,1021.6 326.1,1027.4 330.5,1036.2 336.3,1036.2 340.7,1031.8 346.6,1023.0 352.4,1012.8 359.8,1004.0 365.6,1002.5 372.9,1001.1 377.7,1004.8 382.9,1015.2 386.4,1027.3 388.9,1041.2 391.5,1060.2 394.1,1072.3 397.6,1082.7 401.1,1093.1 403.7,1115.6 408.9,1115.6 419.2,1122.5 429.6,1119.1 436.6,1107.0 443.5,1101.8 450.4,1105.2 454.7,1101.8 457.1,1100.0" fill="none" stroke="#00008b" stroke-width="3.3" stroke-linejoin="round" stroke-linecap="round" stroke-dasharray="2.5,10.1"/>
<polyline points="541.6,1353.1 561.9,1332.8 580.6,1312.5 599.4,1293.8 611.9,1287.5 622.8,1288.3 633.8,1288.3 644.7,1295.3 657.2,1303.9 661.9,1307.0" fill="none" stroke="#00008b" stroke-width="3.3" stroke-linejoin="round" stroke-linecap="round" stroke-dasharray="2.5,10.1"/>
<polyline points="775.5,1368.7 796.0,1362.6 826.8,1358.5 859.6,1351.3 878.1,1357.4 908.8,1363.6 929.3,1367.7 953.0,1372.8" fill="none" stroke="#00008b" stroke-width="3.3" stroke-linejoin="round" stroke-linecap="round" stroke-dasharray="2.5,10.1"/>
<polyline points="102.6,1382.5 119.8,1382.5 128.0,1377.0 133.0,1370.0 143.2,1355.9 152.1,1353.3 161.0,1360.9 177.5,1366.0 194.0,1373.6 200.4,1374.9 204.0,1371.0 207.0,1360.0 210.0,1335.0 212.8,1300.0 215.5,1265.0 218.5,1235.0 221.5,1210.0 224.0,1195.0 225.3,1186.4 226.6,1166.4 228.0,1153.1 229.3,1142.5 232.0,1130.5 234.6,1117.2 238.6,1106.5 243.9,1101.2 247.9,1088.5 254.3,1084.6 258.6,1081.2 264.2,1088.5 273.3,1081.6 276.3,1074.3 283.6,1078.7 288.0,1065.5 292.4,1050.9 296.8,1045.0 301.2,1055.3 304.8,1062.6 306.3,1028.9 308.5,1018.6 312.9,1023.0 315.0,1050.0 317.3,1075.8 320.2,1055.3 324.6,1055.3 329.0,1068.4 333.4,1064.0 337.8,1067.0 342.2,1061.1 346.6,1052.3 352.4,1045.0 358.3,1037.7 364.2,1037.7 370.0,1033.3 374.2,1034.2 377.7,1032.5 382.9,1041.2 386.4,1055.0 389.8,1084.4 393.3,1091.4 396.7,1093.1 400.2,1103.5 402.8,1127.7 408.9,1124.3 415.8,1127.7 422.7,1129.4 429.6,1119.1 436.6,1112.1 443.5,1110.4 450.4,1115.6 454.7,1107.0 457.1,1104.0" fill="none" stroke="#0000ff" stroke-width="3" stroke-linejoin="round" stroke-linecap="round"/>
<polyline points="541.6,1346.9 561.9,1323.4 583.8,1293.8 602.5,1278.1 613.4,1272.7 621.3,1274.2 630.6,1271.1 640.0,1278.1 650.9,1287.5 661.9,1295.0" fill="none" stroke="#0000ff" stroke-width="3" stroke-linejoin="round" stroke-linecap="round"/>
<polyline points="775.5,1359.5 796.0,1354.3 826.8,1348.2 857.5,1340.0 878.1,1346.1 908.8,1355.4 929.3,1361.5 953.0,1369.7" fill="none" stroke="#0000ff" stroke-width="3" stroke-linejoin="round" stroke-linecap="round"/>
<polyline points="102.6,1381.0 120.4,1380.0 131.8,1372.4 140.0,1358.0 150.9,1349.5 160.0,1357.0 176.2,1363.5 190.0,1368.0 200.4,1372.4 204.0,1369.0 207.5,1357.0 210.5,1332.0 213.0,1300.0 216.0,1265.0 219.0,1235.0 222.0,1212.0 224.5,1200.0 226.0,1193.1 227.3,1173.1 229.3,1159.8 232.0,1146.5 234.6,1133.2 238.6,1125.2 242.6,1119.8 246.6,1108.0 254.3,1103.6 258.6,1099.9 264.2,1106.5 273.3,1099.2 276.3,1093.3 283.6,1096.3 288.0,1081.6 292.4,1071.4 296.8,1064.0 301.2,1072.8 304.8,1078.7 307.8,1039.2 311.4,1040.6 314.5,1065.0 317.3,1087.5 321.7,1069.9 324.6,1070.5 329.0,1081.6 333.4,1077.2 337.8,1080.2 342.2,1075.8 348.0,1064.0 353.9,1056.7 359.8,1052.3 365.6,1050.9 369.0,1049.8 376.0,1051.6 379.4,1051.6 383.8,1058.5 387.2,1072.3 389.8,1100.0 393.3,1103.5 397.6,1105.2 400.2,1113.9 402.8,1134.6 408.9,1131.2 419.2,1134.6 429.6,1124.3 436.6,1117.3 443.5,1115.6 450.4,1120.8 454.7,1112.1 457.1,1110.0" fill="none" stroke="#87ceeb" stroke-width="3" stroke-linejoin="round" stroke-linecap="round"/>
<polyline points="541.6,1340.6 558.8,1318.8 580.6,1290.6 599.4,1273.4 611.9,1265.6 624.4,1268.8 630.6,1265.6 640.0,1273.4 650.9,1281.3 661.9,1287.0" fill="none" stroke="#87ceeb" stroke-width="3" stroke-linejoin="round" stroke-linecap="round"/>
<polyline points="775.5,1355.4 806.3,1348.2 837.0,1341.0 859.6,1336.9 878.1,1344.0 898.6,1351.3 929.3,1359.5 953.0,1367.7" fill="none" stroke="#87ceeb" stroke-width="3" stroke-linejoin="round" stroke-linecap="round"/>
<polyline points="102.6,1380.0 119.8,1380.0 126.0,1378.0 133.1,1368.6 142.0,1357.1 148.0,1354.0 154.7,1353.3 161.0,1357.1 171.2,1359.0 186.4,1364.7 200.4,1371.7 205.4,1366.0 209.3,1350.8 213.1,1319.0 215.5,1295.0 218.0,1265.0 220.5,1240.0 223.0,1218.0 225.5,1200.0 227.3,1189.1 228.6,1173.1 232.0,1154.5 237.3,1142.5 245.3,1126.5 257.3,1118.5 262.5,1120.0 268.2,1118.8 273.5,1111.0 276.8,1108.0 279.5,1109.5 286.5,1099.2 290.9,1089.0 293.8,1083.1 298.2,1080.2 304.1,1089.0 307.8,1058.2 312.2,1059.7 314.4,1075.8 316.5,1091.9 320.2,1084.6 324.6,1086.0 330.5,1093.3 336.3,1093.3 340.7,1090.4 349.5,1074.3 356.8,1068.4 362.7,1065.5 369.0,1063.0 376.0,1061.9 382.9,1068.9 387.2,1084.4 389.8,1101.8 395.0,1112.1 399.3,1119.1 401.9,1141.6 407.1,1138.1 419.2,1136.4 427.9,1136.4 434.8,1129.4 443.5,1124.3 450.4,1122.5 453.9,1124.3 457.1,1119.0" fill="none" stroke="#000000" stroke-width="4.2" stroke-linejoin="round" stroke-linecap="round" stroke-dasharray="17,17"/>
<polyline points="541.6,1337.5 550.9,1323.4 569.7,1300.0 593.1,1275.0 608.8,1265.6 616.6,1261.7 624.4,1264.1 630.6,1260.2 640.0,1269.5 650.9,1278.1 661.9,1285.5" fill="none" stroke="#000000" stroke-width="4.2" stroke-linejoin="round" stroke-linecap="round" stroke-dasharray="17,17"/>
<polyline points="775.5,1355.4 785.8,1349.2 802.2,1349.2 818.6,1344.1 835.0,1340.0 851.4,1334.9 865.7,1334.9 882.2,1344.1 896.5,1350.2 912.9,1354.3 929.3,1358.5 953.0,1365.6" fill="none" stroke="#000000" stroke-width="4.2" stroke-linejoin="round" stroke-linecap="round" stroke-dasharray="17,17"/>
<polyline points="102.6,1383.7 126.7,1382.2 133.8,1366.1 139.9,1358.2 145.2,1355.6 151.4,1354.7 155.8,1356.4 160.1,1360.8 166.3,1363.5 174.2,1365.2 182.1,1367.0 190.0,1370.5 195.3,1374.0 199.7,1376.5 202.3,1375.7 205.8,1370.5 208.5,1361.7 211.0,1329.9 214.0,1300.0 217.5,1265.1 221.0,1230.3 224.5,1200.4 227.2,1188.1 229.8,1176.1 232.3,1173.5 235.0,1167.5 238.3,1163.2 243.4,1159.8 247.5,1148.1 252.7,1144.1 256.0,1143.6 260.1,1141.6 264.4,1145.0 269.6,1141.6 275.7,1131.2 280.0,1132.9 284.3,1132.0 288.0,1125.6 293.8,1115.2 298.2,1103.4 302.6,1110.8 305.6,1113.7 309.2,1081.6 312.9,1084.5 315.1,1093.3 317.3,1119.6 320.2,1102.0 323.1,1102.0 326.1,1107.8 329.7,1113.7 333.4,1109.3 339.3,1109.3 343.6,1100.5 349.5,1093.3 356.8,1086.0 362.7,1083.0 370.0,1078.6 375.0,1080.1 378.8,1075.9 383.2,1080.3 386.1,1090.5 389.0,1102.1 391.2,1125.4 395.6,1122.5 399.3,1126.9 401.5,1138.6 402.9,1153.2 405.1,1150.2 411.0,1144.5 419.8,1147.4 428.6,1145.9 434.4,1138.6 440.3,1128.4 446.1,1126.9 452.0,1134.2 457.1,1122.5" fill="none" stroke="#000000" stroke-width="2" stroke-linejoin="round" stroke-linecap="round"/>
<polyline points="541.6,1347.0 561.9,1319.0 577.5,1301.9 588.4,1289.5 602.5,1277.0 615.0,1270.7 624.4,1271.5 631.4,1269.2 640.0,1275.4 650.9,1283.2 661.9,1290.9" fill="none" stroke="#000000" stroke-width="2" stroke-linejoin="round" stroke-linecap="round"/>
<polyline points="775.5,1364.8 796.0,1356.3 820.6,1351.3 845.2,1345.4 861.6,1340.4 873.9,1343.4 894.5,1353.3 919.1,1360.3 935.5,1365.3 955.0,1371.3" fill="none" stroke="#000000" stroke-width="2" stroke-linejoin="round" stroke-linecap="round"/>
</g>
<line x1="126.4" y1="659.2" x2="126.4" y2="669.0" stroke="#6e6e6e" stroke-width="1.7"/>
<text x="126.4" y="695.0" text-anchor="middle" font-size="25.5" font-family="Liberation Sans, sans-serif">500</text>
<line x1="340.4" y1="659.2" x2="340.4" y2="669.0" stroke="#6e6e6e" stroke-width="1.7"/>
<text x="340.4" y="695.0" text-anchor="middle" font-size="25.5" font-family="Liberation Sans, sans-serif">1000</text>
<line x1="554.3" y1="659.2" x2="554.3" y2="669.0" stroke="#6e6e6e" stroke-width="1.7"/>
<text x="554.3" y="695.0" text-anchor="middle" font-size="25.5" font-family="Liberation Sans, sans-serif">1500</text>
<line x1="768.3" y1="659.2" x2="768.3" y2="669.0" stroke="#6e6e6e" stroke-width="1.7"/>
<text x="768.3" y="695.0" text-anchor="middle" font-size="25.5" font-family="Liberation Sans, sans-serif">2000</text>
<line x1="982.2" y1="659.2" x2="982.2" y2="669.0" stroke="#6e6e6e" stroke-width="1.7"/>
<text x="982.2" y="695.0" text-anchor="middle" font-size="25.5" font-family="Liberation Sans, sans-serif">2500</text>
<line x1="82.2" y1="633.9" x2="92.0" y2="633.9" stroke="#6e6e6e" stroke-width="1.7"/>
<text transform="translate(68.6,633.9) rotate(-90)" text-anchor="middle" font-size="25.5" font-family="Liberation Sans, sans-serif">0</text>
<line x1="82.2" y1="540.9" x2="92.0" y2="540.9" stroke="#6e6e6e" stroke-width="1.7"/>
<text transform="translate(68.6,540.9) rotate(-90)" text-anchor="middle" font-size="25.5" font-family="Liberation Sans, sans-serif">10</text>
<line x1="82.2" y1="448.0" x2="92.0" y2="448.0" stroke="#6e6e6e" stroke-width="1.7"/>
<text transform="translate(68.6,448.0) rotate(-90)" text-anchor="middle" font-size="25.5" font-family="Liberation Sans, sans-serif">20</text>
<line x1="82.2" y1="355.0" x2="92.0" y2="355.0" stroke="#6e6e6e" stroke-width="1.7"/>
<text transform="translate(68.6,355.0) rotate(-90)" text-anchor="middle" font-size="25.5" font-family="Liberation Sans, sans-serif">30</text>
<line x1="82.2" y1="262.1" x2="92.0" y2="262.1" stroke="#6e6e6e" stroke-width="1.7"/>
<text transform="translate(68.6,262.1) rotate(-90)" text-anchor="middle" font-size="25.5" font-family="Liberation Sans, sans-serif">40</text>
<line x1="82.2" y1="169.1" x2="92.0" y2="169.1" stroke="#6e6e6e" stroke-width="1.7"/>
<text transform="translate(68.6,169.1) rotate(-90)" text-anchor="middle" font-size="25.5" font-family="Liberation Sans, sans-serif">50</text>
<line x1="82.2" y1="76.2" x2="92.0" y2="76.2" stroke="#6e6e6e" stroke-width="1.7"/>
<text transform="translate(68.6,76.2) rotate(-90)" text-anchor="middle" font-size="25.5" font-family="Liberation Sans, sans-serif">60</text>
<text x="554.0" y="735.9" text-anchor="middle" font-size="25.5" font-family="Liberation Sans, sans-serif">Wavelength (nm)</text>
<text transform="translate(29.0,331.1) rotate(-90)" text-anchor="middle" font-size="25.2" font-family="Liberation Sans, sans-serif">Reflectance (%)</text>
<text x="171.3" y="166.0" text-anchor="middle" font-size="51" font-family="Liberation Sans, sans-serif">a</text>
<line x1="562.0" y1="112.5" x2="622.0" y2="112.5" stroke="#921510" stroke-width="2.2" stroke-linecap="round"/>
<text x="635.5" y="123.0" font-size="25.5" font-family="Liberation Sans, sans-serif">Sguava field</text>
<text x="635.5" y="147.8" font-size="25.5" textLength="358.39" lengthAdjust="spacing" font-family="Liberation Sans, sans-serif">Sguava field Standard deviation</text>
<text x="635.5" y="172.6" font-size="25.5" textLength="305.59" lengthAdjust="spacing" font-family="Liberation Sans, sans-serif">Sguava field Min. and Max.</text>
<line x1="563.5" y1="186.8" x2="622.0" y2="186.8" stroke="#8b0000" stroke-width="3.3" stroke-linecap="round" stroke-dasharray="2.5,10.1"/>
<text x="635.5" y="197.4" font-size="25.5" textLength="211.05" lengthAdjust="spacing" font-family="Liberation Sans, sans-serif">Sguava Bsvm 0.75</text>
<line x1="563.5" y1="211.6" x2="622.0" y2="211.6" stroke="#ff0000" stroke-width="3.3" stroke-linecap="round" stroke-dasharray="2.5,10.1"/>
<text x="635.5" y="222.2" font-size="25.5" textLength="211.05" lengthAdjust="spacing" font-family="Liberation Sans, sans-serif">Sguava Bsvm 0.50</text>
<line x1="563.5" y1="236.4" x2="622.0" y2="236.4" stroke="#00008b" stroke-width="3.3" stroke-linecap="round" stroke-dasharray="2.5,10.1"/>
<text x="635.5" y="247.0" font-size="25.5" textLength="211.05" lengthAdjust="spacing" font-family="Liberation Sans, sans-serif">Sguava Bsvm 0.25</text>
<line x1="562.0" y1="261.1" x2="622.0" y2="261.1" stroke="#0000ff" stroke-width="3" stroke-linecap="round"/>
<text x="635.5" y="271.7" font-size="25.5" textLength="211.05" lengthAdjust="spacing" font-family="Liberation Sans, sans-serif">Sguava Bsvm 0.10</text>
<line x1="562.0" y1="285.9" x2="622.0" y2="285.9" stroke="#87ceeb" stroke-width="3" stroke-linecap="round"/>
<text x="635.5" y="296.5" font-size="25.5" textLength="211.05" lengthAdjust="spacing" font-family="Liberation Sans, sans-serif">Sguava Bsvm 0.05</text>
<line x1="563.5" y1="310.7" x2="622.0" y2="310.7" stroke="#000000" stroke-width="4.2" stroke-linecap="round" stroke-dasharray="17,17"/>
<text x="635.5" y="321.3" font-size="25.5" textLength="212.55" lengthAdjust="spacing" font-family="Liberation Sans, sans-serif">Sguava Bsvm 0.01</text>
<line x1="562.0" y1="335.5" x2="622.0" y2="335.5" stroke="#000000" stroke-width="2" stroke-linecap="round"/>
<text x="635.5" y="346.1" font-size="25.5" font-family="Liberation Sans, sans-serif">Non-Sguava plants</text>
<rect x="575.0" y="120.8" width="33" height="24" fill="#aaaaaa"/>
<rect x="575.0" y="144.7" width="33" height="33" fill="#bebebe"/>
<line x1="126.4" y1="1413.4" x2="126.4" y2="1423.2" stroke="#6e6e6e" stroke-width="1.7"/>
<text x="126.4" y="1449.6" text-anchor="middle" font-size="25.5" font-family="Liberation Sans, sans-serif">500</text>
<line x1="340.4" y1="1413.4" x2="340.4" y2="1423.2" stroke="#6e6e6e" stroke-width="1.7"/>
<text x="340.4" y="1449.6" text-anchor="middle" font-size="25.5" font-family="Liberation Sans, sans-serif">1000</text>
<line x1="554.3" y1="1413.4" x2="554.3" y2="1423.2" stroke="#6e6e6e" stroke-width="1.7"/>
<text x="554.3" y="1449.6" text-anchor="middle" font-size="25.5" font-family="Liberation Sans, sans-serif">1500</text>
<line x1="768.3" y1="1413.4" x2="768.3" y2="1423.2" stroke="#6e6e6e" stroke-width="1.7"/>
<text x="768.3" y="1449.6" text-anchor="middle" font-size="25.5" font-family="Liberation Sans, sans-serif">2000</text>
<line x1="982.2" y1="1413.4" x2="982.2" y2="1423.2" stroke="#6e6e6e" stroke-width="1.7"/>
<text x="982.2" y="1449.6" text-anchor="middle" font-size="25.5" font-family="Liberation Sans, sans-serif">2500</text>
<line x1="82.2" y1="1388.6" x2="92.0" y2="1388.6" stroke="#6e6e6e" stroke-width="1.7"/>
<text transform="translate(68.6,1388.6) rotate(-90)" text-anchor="middle" font-size="25.5" font-family="Liberation Sans, sans-serif">0</text>
<line x1="82.2" y1="1296.0" x2="92.0" y2="1296.0" stroke="#6e6e6e" stroke-width="1.7"/>
<text transform="translate(68.6,1296.0) rotate(-90)" text-anchor="middle" font-size="25.5" font-family="Liberation Sans, sans-serif">10</text>
<line x1="82.2" y1="1203.4" x2="92.0" y2="1203.4" stroke="#6e6e6e" stroke-width="1.7"/>
<text transform="translate(68.6,1203.4) rotate(-90)" text-anchor="middle" font-size="25.5" font-family="Liberation Sans, sans-serif">20</text>
<line x1="82.2" y1="1110.7" x2="92.0" y2="1110.7" stroke="#6e6e6e" stroke-width="1.7"/>
<text transform="translate(68.6,1110.7) rotate(-90)" text-anchor="middle" font-size="25.5" font-family="Liberation Sans, sans-serif">30</text>
<line x1="82.2" y1="1018.1" x2="92.0" y2="1018.1" stroke="#6e6e6e" stroke-width="1.7"/>
<text transform="translate(68.6,1018.1) rotate(-90)" text-anchor="middle" font-size="25.5" font-family="Liberation Sans, sans-serif">40</text>
<line x1="82.2" y1="925.5" x2="92.0" y2="925.5" stroke="#6e6e6e" stroke-width="1.7"/>
<text transform="translate(68.6,925.5) rotate(-90)" text-anchor="middle" font-size="25.5" font-family="Liberation Sans, sans-serif">50</text>
<line x1="82.2" y1="832.9" x2="92.0" y2="832.9" stroke="#6e6e6e" stroke-width="1.7"/>
<text transform="translate(68.6,832.9) rotate(-90)" text-anchor="middle" font-size="25.5" font-family="Liberation Sans, sans-serif">60</text>
<text x="554.0" y="1489.7" text-anchor="middle" font-size="25.5" font-family="Liberation Sans, sans-serif">Wavelength (nm)</text>
<text transform="translate(29.0,1087.3) rotate(-90)" text-anchor="middle" font-size="25.2" font-family="Liberation Sans, sans-serif">Reflectance (%)</text>
<text x="172.0" y="922.8" text-anchor="middle" font-size="51" font-family="Liberation Sans, sans-serif">b</text>
<line x1="559.8" y1="869.0" x2="619.8" y2="869.0" stroke="#921510" stroke-width="2.2" stroke-linecap="round"/>
<text x="633.3" y="879.6" font-size="25.5" font-family="Liberation Sans, sans-serif">Sguava field</text>
<text x="633.3" y="904.3" font-size="25.5" textLength="357.49" lengthAdjust="spacing" font-family="Liberation Sans, sans-serif">Sguava field Standard deviation</text>
<text x="633.3" y="929.1" font-size="25.5" textLength="305.09" lengthAdjust="spacing" font-family="Liberation Sans, sans-serif">Sguava field Min. and Max.</text>
<line x1="561.3" y1="943.3" x2="619.8" y2="943.3" stroke="#8b0000" stroke-width="3.3" stroke-linecap="round" stroke-dasharray="2.5,10.1"/>
<text x="633.3" y="953.9" font-size="25.5" textLength="183.81" lengthAdjust="spacing" font-family="Liberation Sans, sans-serif">Sguava MF 0.75</text>
<line x1="561.3" y1="968.1" x2="619.8" y2="968.1" stroke="#ff0000" stroke-width="3.3" stroke-linecap="round" stroke-dasharray="2.5,10.1"/>
<text x="633.3" y="978.7" font-size="25.5" textLength="183.81" lengthAdjust="spacing" font-family="Liberation Sans, sans-serif">Sguava MF 0.50</text>
<line x1="561.3" y1="992.9" x2="619.8" y2="992.9" stroke="#00008b" stroke-width="3.3" stroke-linecap="round" stroke-dasharray="2.5,10.1"/>
<text x="633.3" y="1003.5" font-size="25.5" textLength="183.81" lengthAdjust="spacing" font-family="Liberation Sans, sans-serif">Sguava MF 0.25</text>
<line x1="559.8" y1="1017.6" x2="619.8" y2="1017.6" stroke="#0000ff" stroke-width="3" stroke-linecap="round"/>
<text x="633.3" y="1028.2" font-size="25.5" textLength="183.81" lengthAdjust="spacing" font-family="Liberation Sans, sans-serif">Sguava MF 0.10</text>
<line x1="559.8" y1="1042.4" x2="619.8" y2="1042.4" stroke="#87ceeb" stroke-width="3" stroke-linecap="round"/>
<text x="633.3" y="1053.0" font-size="25.5" textLength="183.81" lengthAdjust="spacing" font-family="Liberation Sans, sans-serif">Sguava MF 0.05</text>
<line x1="561.3" y1="1067.2" x2="619.8" y2="1067.2" stroke="#000000" stroke-width="4.2" stroke-linecap="round" stroke-dasharray="17,17"/>
<text x="633.3" y="1077.8" font-size="25.5" textLength="186.31" lengthAdjust="spacing" font-family="Liberation Sans, sans-serif">Sguava MF 0.01</text>
<line x1="559.8" y1="1092.0" x2="619.8" y2="1092.0" stroke="#000000" stroke-width="2" stroke-linecap="round"/>
<text x="633.3" y="1102.6" font-size="25.5" textLength="216.19" lengthAdjust="spacing" font-family="Liberation Sans, sans-serif">Non-Sguava plants</text>
<rect x="572.8" y="877.2" width="33" height="24" fill="#aaaaaa"/>
<rect x="572.8" y="901.2" width="33" height="33" fill="#bebebe"/>
</svg></body></html>
